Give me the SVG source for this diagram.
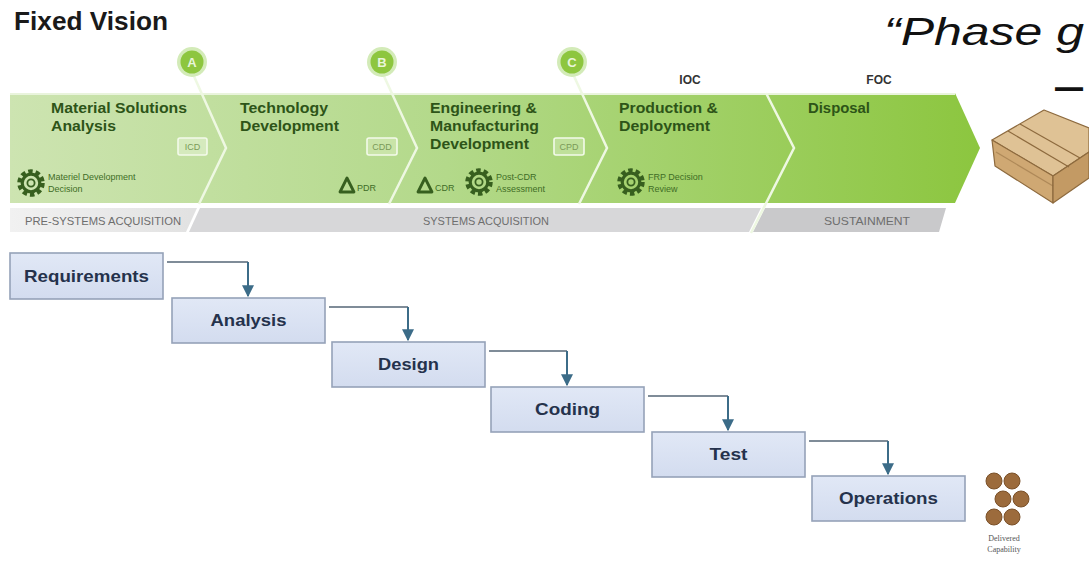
<svg xmlns="http://www.w3.org/2000/svg" width="1089" height="563" viewBox="0 0 1089 563">
  <defs>
    <linearGradient id="bandGrad" x1="10" y1="0" x2="980" y2="0" gradientUnits="userSpaceOnUse">
      <stop offset="0" stop-color="#cde4b1"/>
      <stop offset="0.45" stop-color="#b3d98a"/>
      <stop offset="1" stop-color="#8cc63f"/>
    </linearGradient>
    <linearGradient id="preGrad" x1="10" y1="0" x2="190" y2="0" gradientUnits="userSpaceOnUse">
      <stop offset="0" stop-color="#f1f1f1"/>
      <stop offset="1" stop-color="#e2e2e2"/>
    </linearGradient>
    <linearGradient id="boxGrad" x1="0" y1="0" x2="0" y2="1">
      <stop offset="0" stop-color="#e1e8f6"/>
      <stop offset="1" stop-color="#d3dcef"/>
    </linearGradient>
    <g id="gear">
      <circle r="11.5" fill="none" stroke="#375f1f" stroke-width="4.5" stroke-dasharray="4.4 2.9"/>
      <circle r="8.8" fill="none" stroke="#375f1f" stroke-width="3.2"/>
      <circle r="3.6" fill="none" stroke="#375f1f" stroke-width="1.8"/>
    </g>
    <path id="delta" d="M0,8 L7,-6 L14,8 Z" fill="none" stroke="#375f1f" stroke-width="2.8" stroke-linejoin="round"/>
    <marker id="arrowHead" viewBox="0 0 10 10" refX="9" refY="5" markerWidth="6" markerHeight="6" orient="auto" markerUnits="strokeWidth">
      <path d="M0,0 L10,5 L0,10 Z" fill="#3c6c88"/>
    </marker>
  </defs>
  <style>
    .title { font-family: "Liberation Sans", Arial, sans-serif; font-weight: bold; font-size: 25px; fill: #1a1a1a; }
    .quote { font-family: "Liberation Sans", Arial, sans-serif; font-style: italic; font-size: 38px; fill: #111; }
    .dash { font-family: "Liberation Sans", Arial, sans-serif; font-weight: bold; font-size: 38px; fill: #111; }
    .phase { font-family: "Liberation Sans", Arial, sans-serif; font-weight: bold; font-size: 15px; fill: #2d5418; }
    .small { font-family: "Liberation Sans", Arial, sans-serif; font-size: 9px; fill: #3f6d26; }
    .doc { font-family: "Liberation Sans", Arial, sans-serif; font-size: 9px; fill: #7a9a58; }
    .mile { font-family: "Liberation Sans", Arial, sans-serif; font-weight: bold; font-size: 12px; fill: #333; }
    .gate { font-family: "Liberation Sans", Arial, sans-serif; font-weight: bold; font-size: 13px; fill: #e9f5da; }
    .bar { font-family: "Liberation Sans", Arial, sans-serif; font-size: 10.5px; fill: #6e6e6e; }
    .chev { fill: none; stroke: #eef8e2; stroke-width: 2.5; stroke-linejoin: miter; }
    .step rect { fill: url(#boxGrad); stroke: #95a2b8; stroke-width: 1.6; }
    .step text { font-family: "Liberation Sans", Arial, sans-serif; font-weight: bold; font-size: 16.5px; fill: #25324c; text-anchor: middle; }
    .hline { fill: none; stroke: #7f8c98; stroke-width: 2; }
    .vline { fill: none; stroke: #3c6c88; stroke-width: 2; }
    .cap { font-family: "Liberation Serif", "Times New Roman", serif; font-size: 8px; fill: #555; text-anchor: middle; }
  </style>

  <rect width="1089" height="563" fill="#ffffff"/>

  <text class="title" x="14" y="30" textLength="154" lengthAdjust="spacingAndGlyphs">Fixed Vision</text>
  <text class="quote" x="884" y="45" textLength="200" lengthAdjust="spacingAndGlyphs">“Phase g</text>
  <text class="dash" x="1055" y="100" textLength="28" lengthAdjust="spacingAndGlyphs">—</text>

  <!-- acquisition life-cycle band -->
  <g id="lifecycle-band">
    <path d="M10,93 L955,93 L980,148 L955,203 L10,203 Z" fill="url(#bandGrad)"/>
    <path d="M10,94 L955,94" stroke="#e9f4dc" stroke-width="2"/>
  </g>

  <!-- phase bar underneath -->
  <g id="phase-bar">
    <path d="M10,208 L197,208 L186,232 L10,232 Z" fill="url(#preGrad)"/>
    <path d="M200,208 L761,208 L749,232 L189,232 Z" fill="#d7d7d9"/>
    <path d="M765,208 L946,208 L939,232 L753,232 Z" fill="#c9c9cb"/>
    <text class="bar" x="25" y="225" textLength="156" lengthAdjust="spacingAndGlyphs">PRE-SYSTEMS ACQUISITION</text>
    <text class="bar" x="423" y="225" textLength="126" lengthAdjust="spacingAndGlyphs">SYSTEMS ACQUISITION</text>
    <text class="bar" x="824" y="225" textLength="86" lengthAdjust="spacingAndGlyphs">SUSTAINMENT</text>
  </g>

  <!-- milestone chevrons -->
  <g id="chevrons">
    <path class="chev" d="M193,74 L226,148 L199,204"/>
    <path class="chev" d="M383,74 L417,148 L389,204"/>
    <path class="chev" d="M573,74 L607,148 L579,204"/>
    <path class="chev" d="M766,93 L794,148 L751,233"/>
  </g>

  <!-- milestone gates -->
  <g id="gate-a">
    <circle cx="192" cy="62" r="15" fill="#d3ebb8"/>
    <circle cx="192" cy="62" r="11.5" fill="#8dc63f"/>
    <text class="gate" x="192" y="67" text-anchor="middle">A</text>
  </g>
  <g id="gate-b">
    <circle cx="382" cy="62" r="15" fill="#d3ebb8"/>
    <circle cx="382" cy="62" r="11.5" fill="#8dc63f"/>
    <text class="gate" x="382" y="67" text-anchor="middle">B</text>
  </g>
  <g id="gate-c">
    <circle cx="572" cy="62" r="15" fill="#d3ebb8"/>
    <circle cx="572" cy="62" r="11.5" fill="#8dc63f"/>
    <text class="gate" x="572" y="67" text-anchor="middle">C</text>
  </g>
  <text class="mile" x="690" y="84" text-anchor="middle">IOC</text>
  <text class="mile" x="879" y="84" text-anchor="middle">FOC</text>

  <!-- phases -->
  <g id="phase-msa">
    <text class="phase" x="51" y="113" textLength="136" lengthAdjust="spacingAndGlyphs">Material Solutions</text>
    <text class="phase" x="51" y="131" textLength="65" lengthAdjust="spacingAndGlyphs">Analysis</text>
    <rect x="178" y="138" width="29" height="17" rx="2" fill="#d5eabd" stroke="#f3faea" stroke-width="1.6"/>
    <text class="doc" x="192.5" y="150" text-anchor="middle">ICD</text>
    <use href="#gear" x="31" y="183"/>
    <text class="small" x="48" y="180">Materiel Development</text>
    <text class="small" x="48" y="192">Decision</text>
  </g>
  <g id="phase-td">
    <text class="phase" x="240" y="113" textLength="88" lengthAdjust="spacingAndGlyphs">Technology</text>
    <text class="phase" x="240" y="131" textLength="99" lengthAdjust="spacingAndGlyphs">Development</text>
    <rect x="367" y="138" width="30" height="17" rx="2" fill="#c9e4a8" stroke="#f3faea" stroke-width="1.6"/>
    <text class="doc" x="382" y="150" text-anchor="middle">CDD</text>
    <use href="#delta" x="340" y="184"/>
    <text class="small" x="357" y="191">PDR</text>
  </g>
  <g id="phase-emd">
    <text class="phase" x="430" y="113" textLength="107" lengthAdjust="spacingAndGlyphs">Engineering &amp;</text>
    <text class="phase" x="430" y="131" textLength="109" lengthAdjust="spacingAndGlyphs">Manufacturing</text>
    <text class="phase" x="430" y="149" textLength="99" lengthAdjust="spacingAndGlyphs">Development</text>
    <rect x="554" y="138" width="30" height="17" rx="2" fill="#bfe09a" stroke="#f3faea" stroke-width="1.6"/>
    <text class="doc" x="569" y="150" text-anchor="middle">CPD</text>
    <use href="#delta" x="418" y="184"/>
    <text class="small" x="435" y="191">CDR</text>
    <use href="#gear" x="479" y="182"/>
    <text class="small" x="496" y="180">Post-CDR</text>
    <text class="small" x="496" y="192">Assessment</text>
  </g>
  <g id="phase-pd">
    <text class="phase" x="619" y="113" textLength="99" lengthAdjust="spacingAndGlyphs">Production &amp;</text>
    <text class="phase" x="619" y="131" textLength="91" lengthAdjust="spacingAndGlyphs">Deployment</text>
    <use href="#gear" x="631" y="182"/>
    <text class="small" x="648" y="180">FRP Decision</text>
    <text class="small" x="648" y="192">Review</text>
  </g>
  <g id="phase-disposal">
    <text class="phase" x="808" y="113" textLength="62" lengthAdjust="spacingAndGlyphs">Disposal</text>
  </g>

  <!-- shipped product crate -->
  <g id="crate" stroke="#8d6a3e" stroke-width="1.2" stroke-linejoin="round">
    <path d="M992,140 L1044,110 L1089,128 L1089,152 L1053,176 Z" fill="#dfc295"/>
    <path d="M992,140 L1053,176 L1053,203 L995,166 Z" fill="#cfa873"/>
    <path d="M1053,176 L1089,152 L1089,178 L1053,203 Z" fill="#c39a64"/>
    <path d="M1008,131 L1069,167" fill="none"/>
    <path d="M1020,124 L1080,158" fill="none"/>
    <path d="M996,152 L1053,186" fill="none" stroke-opacity="0.5"/>
  </g>

  <!-- waterfall steps -->
  <g id="step-requirements" class="step">
    <rect x="10" y="253" width="153" height="46"/>
    <text x="86.5" y="282" textLength="125" lengthAdjust="spacingAndGlyphs">Requirements</text>
  </g>
  <g id="step-analysis" class="step">
    <rect x="172" y="298" width="153" height="45"/>
    <text x="248.5" y="326" textLength="76" lengthAdjust="spacingAndGlyphs">Analysis</text>
  </g>
  <g id="step-design" class="step">
    <rect x="332" y="342" width="153" height="45"/>
    <text x="408.5" y="370" textLength="61" lengthAdjust="spacingAndGlyphs">Design</text>
  </g>
  <g id="step-coding" class="step">
    <rect x="491" y="387" width="153" height="45"/>
    <text x="567.5" y="415" textLength="65" lengthAdjust="spacingAndGlyphs">Coding</text>
  </g>
  <g id="step-test" class="step">
    <rect x="652" y="432" width="153" height="45"/>
    <text x="728.5" y="460" textLength="38" lengthAdjust="spacingAndGlyphs">Test</text>
  </g>
  <g id="step-operations" class="step">
    <rect x="812" y="476" width="153" height="45"/>
    <text x="888.5" y="504" textLength="99" lengthAdjust="spacingAndGlyphs">Operations</text>
  </g>

  <!-- hand-offs between steps -->
  <g id="connectors">
    <path class="hline" d="M167,262 L248,262"/>
    <path class="vline" d="M248,262 L248,296" marker-end="url(#arrowHead)"/>
    <path class="hline" d="M329,307 L408,307"/>
    <path class="vline" d="M408,307 L408,340" marker-end="url(#arrowHead)"/>
    <path class="hline" d="M489,351 L567,351"/>
    <path class="vline" d="M567,351 L567,385" marker-end="url(#arrowHead)"/>
    <path class="hline" d="M648,396 L728,396"/>
    <path class="vline" d="M728,396 L728,430" marker-end="url(#arrowHead)"/>
    <path class="hline" d="M809,441 L888,441"/>
    <path class="vline" d="M888,441 L888,474" marker-end="url(#arrowHead)"/>
  </g>

  <!-- delivered capability -->
  <g id="delivered-capability" fill="#9c6b3c" stroke="#7a5028" stroke-width="1">
    <circle cx="994" cy="481" r="8"/>
    <circle cx="1012" cy="481" r="8"/>
    <circle cx="1003" cy="499" r="8"/>
    <circle cx="1021" cy="499" r="8"/>
    <circle cx="994" cy="517" r="8"/>
    <circle cx="1012" cy="517" r="8"/>
    <text class="cap" x="1004" y="541" stroke="none">Delivered</text>
    <text class="cap" x="1004" y="552" stroke="none">Capability</text>
  </g>
</svg>
